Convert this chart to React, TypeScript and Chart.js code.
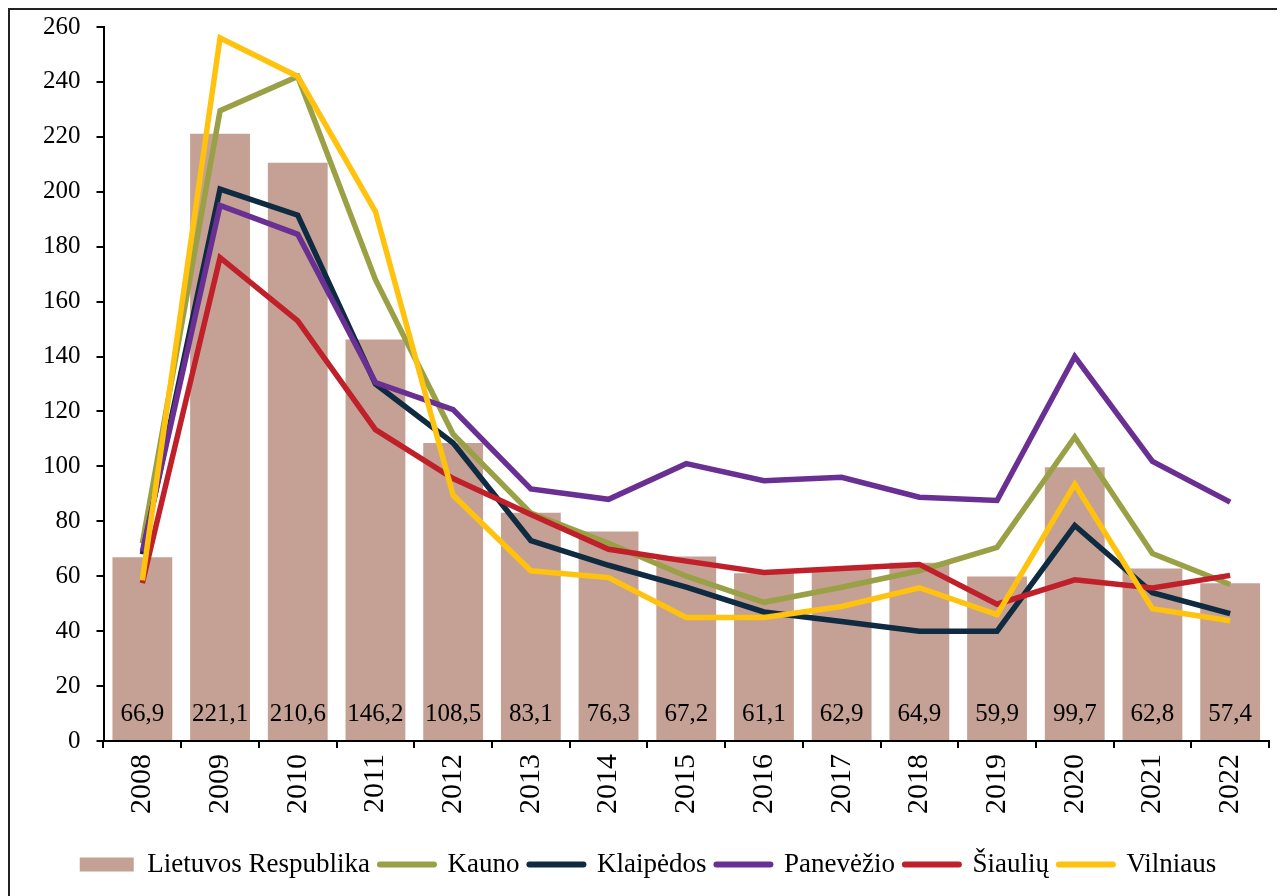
import React, { useEffect, useRef } from "react";
import { Chart, registerables } from "chart.js";

Chart.register(...registerables);

const years = ["2008", "2009", "2010", "2011", "2012", "2013", "2014", "2015", "2016", "2017", "2018", "2019", "2020", "2021", "2022"];
const lietuvosRespublika = [66.9, 221.1, 210.6, 146.2, 108.5, 83.1, 76.3, 67.2, 61.1, 62.9, 64.9, 59.9, 99.7, 62.8, 57.4];
const kauno = [72, 229.5, 242, 168, 111.7, 83, 72, 60, 50.5, 56, 62, 70.5, 110.7, 68.3, 57];
const klaipedos = [68, 201, 191.5, 130, 108.5, 73, 64, 56, 47, 43.5, 40, 40, 78.5, 54, 46.4];
const panevezio = [69, 195, 184.5, 130.5, 120.7, 91.8, 88, 101, 94.8, 96, 88.8, 87.6, 140, 101.8, 87];
const siauliu = [57.5, 176, 153, 113.4, 95.6, 82.5, 69.8, 65.5, 61.4, 62.8, 64.3, 49.8, 58.7, 55.7, 60.3];
const vilniaus = [58.5, 256, 242, 192.8, 89.5, 62, 59.5, 45, 45, 49, 55.8, 46, 93.5, 48.2, 43.8];

const FONT = "'Liberation Serif', 'Times New Roman', serif";

const barLabelPlugin = {
  id: "barLabels",
  afterDatasetsDraw(chart: any) {
    const meta = chart.getDatasetMeta(0);
    const ys = chart.scales.y;
    const ctx = chart.ctx;
    ctx.save();
    ctx.font = `25px ${FONT}`;
    ctx.fillStyle = "#000";
    ctx.textAlign = "center";
    ctx.textBaseline = "middle";
    const y = ys.getPixelForValue(0) - 27;
    meta.data.forEach((el: any, i: number) => {
      const v = chart.data.datasets[0].data[i] as number;
      ctx.fillText(v.toFixed(1).replace(".", ","), el.x, y);
    });
    ctx.restore();
  },
};

export default function App() {
  const ref = useRef<HTMLCanvasElement | null>(null);
  useEffect(() => {
    if (!ref.current) return;
    Chart.defaults.font.family = FONT;
    Chart.defaults.color = "#000";
    const mkLine = (label: string, data: number[], color: string, order: number) => ({
      type: "line" as const,
      label,
      data,
      borderColor: color,
      backgroundColor: color,
      borderWidth: 5.5,
      pointRadius: 0,
      pointHoverRadius: 0,
      tension: 0,
      fill: false,
      order,
    });
    const chart = new Chart(ref.current, {
      type: "bar",
      data: {
        labels: years,
        datasets: [
          {
            type: "bar" as const,
            label: "Lietuvos Respublika",
            data: lietuvosRespublika,
            backgroundColor: "#C4A194",
            borderWidth: 0,
            categoryPercentage: 1,
            barPercentage: 0.77,
            order: 10,
          },
          mkLine("Kauno", kauno, "#9AA045", 4),
          mkLine("Klaipėdos", klaipedos, "#0F2B41", 3),
          mkLine("Panevėžio", panevezio, "#6A2F93", 2),
          mkLine("Šiaulių", siauliu, "#C0202A", 1),
          mkLine("Vilniaus", vilniaus, "#FFC20E", 0),
        ] as any,
      },
      options: {
        responsive: false,
        animation: false,
        layout: { padding: { left: 17, right: 16, top: 17, bottom: 8 } },
        plugins: {
          tooltip: { enabled: false },
          legend: {
            position: "bottom",
            labels: {
              font: { size: 27, family: FONT },
              color: "#000",
              usePointStyle: true,
              pointStyleWidth: 54,
              boxHeight: 14,
              padding: 10,
              sort: (a: any, b: any) => a.datasetIndex - b.datasetIndex,
              generateLabels(chart: any) {
                const items = Chart.defaults.plugins.legend.labels.generateLabels(chart);
                return items.map((it: any) => {
                  const ds = chart.data.datasets[it.datasetIndex];
                  if (ds.type === "bar") {
                    return { ...it, pointStyle: "rect", lineWidth: 0, strokeStyle: "rgba(0,0,0,0)", fillStyle: ds.backgroundColor };
                  }
                  return { ...it, pointStyle: "line", lineWidth: 6, lineCap: "round", strokeStyle: ds.borderColor, fillStyle: ds.borderColor };
                });
              },
            },
          },
        },
        scales: {
          x: {
            offset: true,
            grid: { display: true, drawOnChartArea: false, drawTicks: true, tickLength: 7, offset: true, color: "#000", lineWidth: 2 },
            border: { display: true, color: "#000", width: 2 },
            ticks: { maxRotation: 90, minRotation: 90, padding: 6, font: { size: 30, family: FONT }, color: "#000" },
            afterFit(scale: any) {
              scale.height += 21;
            },
          },
          y: {
            min: 0,
            max: 260,
            grid: { display: true, drawOnChartArea: false, drawTicks: true, tickLength: 7, color: "#000", lineWidth: 2 },
            border: { display: true, color: "#000", width: 2 },
            ticks: { stepSize: 20, padding: 16, font: { size: 25, family: FONT }, color: "#000" },
            afterFit(scale: any) {
              scale.paddingTop = 12;
              scale.paddingBottom = 12;
            },
          },
        },
      },
      plugins: [barLabelPlugin],
    });
    return () => chart.destroy();
  }, []);
  return (
    <div style={{ borderLeft: "2px solid #222", borderTop: "2px solid #222", width: 1277, height: 888, boxSizing: "border-box", overflow: "hidden", background: "#fff" }}>
      <canvas ref={ref} width={1275} height={886} style={{ display: "block" }} />
    </div>
  );
}
